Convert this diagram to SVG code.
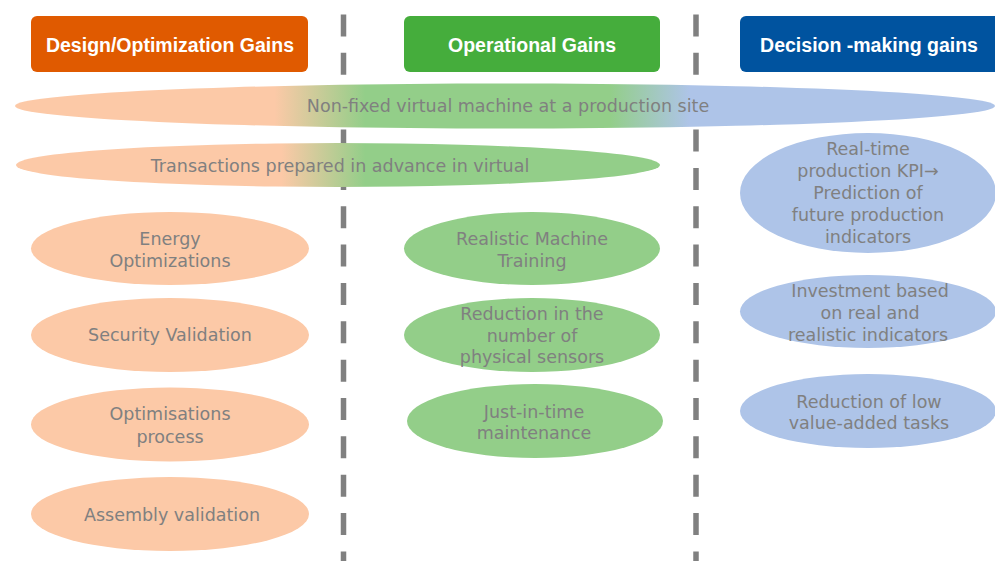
<svg xmlns="http://www.w3.org/2000/svg" width="995" height="561" viewBox="0 0 995 561">
<defs>
<style>
.hdr{font-family:"Liberation Sans",Arial,sans-serif;font-weight:bold;font-size:19.5px;fill:#ffffff;text-anchor:middle}
.lbl{font-family:"DejaVu Sans",sans-serif;font-size:17.5px;fill:#808080;text-anchor:middle}
.org{fill:#fcc9a7}
.grn{fill:#93ce89}
.blu{fill:#aec4e8}
.dash{stroke:#808080;stroke-width:5.5;stroke-dasharray:22 16.35;fill:none}
</style>
<linearGradient id="g1" gradientUnits="userSpaceOnUse" x1="0" y1="0" x2="995" y2="0">
<stop offset="0.276" stop-color="#fcc9a7"/>
<stop offset="0.367" stop-color="#93ce89"/>
<stop offset="0.613" stop-color="#93ce89"/>
<stop offset="0.693" stop-color="#aec4e8"/>
</linearGradient>
<linearGradient id="g2" gradientUnits="userSpaceOnUse" x1="0" y1="0" x2="995" y2="0">
<stop offset="0.283" stop-color="#fcc9a7"/>
<stop offset="0.367" stop-color="#93ce89"/>
</linearGradient>
</defs>
<rect width="995" height="561" fill="#ffffff"/>
<g id="dividers">
<line class="dash" x1="343.5" y1="14.5" x2="343.5" y2="561"/>
<line class="dash" x1="696" y1="14.5" x2="696" y2="561"/>
</g>
<g id="header-design">
<rect x="31" y="16" width="277" height="56" rx="6" fill="#e05a00"/>
<text class="hdr" x="170" y="51.5">Design/Optimization Gains</text>
</g>
<g id="header-operational">
<rect x="404" y="16" width="256" height="56" rx="6" fill="#45ad3c"/>
<text class="hdr" x="532" y="51.5">Operational Gains</text>
</g>
<g id="header-decision">
<rect x="740" y="16" width="265" height="56" rx="6" fill="#00539f"/>
<text class="hdr" x="869" y="51.5">Decision -making gains</text>
</g>
<g id="non-fixed">
<ellipse cx="505" cy="106" rx="490" ry="22.5" fill="url(#g1)"/>
<text class="lbl" x="508" y="112">Non-fixed virtual machine at a production site</text>
</g>
<g id="transactions">
<ellipse cx="338" cy="165" rx="322" ry="22" fill="url(#g2)"/>
<text class="lbl" x="340" y="172">Transactions prepared in advance in virtual</text>
</g>
<g id="energy">
<ellipse class="org" cx="170" cy="248.5" rx="139" ry="36.5"/>
<text class="lbl" x="170" y="245">Energy</text>
<text class="lbl" x="170" y="267">Optimizations</text>
</g>
<g id="security">
<ellipse class="org" cx="170" cy="335" rx="139" ry="37"/>
<text class="lbl" x="170" y="341">Security Validation</text>
</g>
<g id="optimisations">
<ellipse class="org" cx="170" cy="424.5" rx="139" ry="37"/>
<text class="lbl" x="170" y="420">Optimisations</text>
<text class="lbl" x="170" y="443">process</text>
</g>
<g id="assembly">
<ellipse class="org" cx="170" cy="514" rx="139" ry="37"/>
<text class="lbl" x="172" y="521">Assembly validation</text>
</g>
<g id="machine-training">
<ellipse class="grn" cx="532" cy="248.5" rx="128" ry="36.5"/>
<text class="lbl" x="532" y="245">Realistic Machine</text>
<text class="lbl" x="532" y="267">Training</text>
</g>
<g id="sensors">
<ellipse class="grn" cx="532" cy="335" rx="128" ry="37"/>
<text class="lbl" x="532" y="320">Reduction in the</text>
<text class="lbl" x="532" y="342">number of</text>
<text class="lbl" x="532" y="363">physical sensors</text>
</g>
<g id="maintenance">
<ellipse class="grn" cx="535" cy="421" rx="128" ry="37"/>
<text class="lbl" x="534" y="418">Just-in-time</text>
<text class="lbl" x="534" y="439">maintenance</text>
</g>
<g id="kpi">
<ellipse class="blu" cx="868" cy="193" rx="128" ry="60"/>
<text class="lbl" x="868" y="155">Real-time</text>
<text class="lbl" x="868" y="177">production KPI→</text>
<text class="lbl" x="868" y="199">Prediction of</text>
<text class="lbl" x="868" y="221">future production</text>
<text class="lbl" x="868" y="243">indicators</text>
</g>
<g id="investment">
<ellipse class="blu" cx="868" cy="311.5" rx="128" ry="36.5"/>
<text class="lbl" x="870" y="297">Investment based</text>
<text class="lbl" x="870" y="319">on real and</text>
<text class="lbl" x="868" y="341">realistic indicators</text>
</g>
<g id="low-value">
<ellipse class="blu" cx="868" cy="411" rx="128" ry="37"/>
<text class="lbl" x="869" y="408">Reduction of low</text>
<text class="lbl" x="869" y="429">value-added tasks</text>
</g>
</svg>
